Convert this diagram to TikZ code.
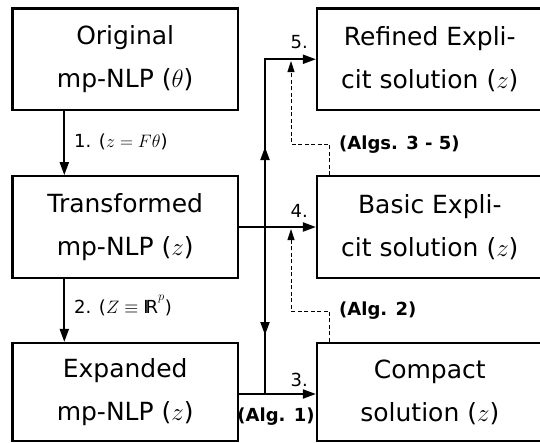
\documentclass[tikz,border=0pt]{standalone}
\usepackage{fix-cm}
\usepackage{fontspec}
\setmainfont{DejaVu Sans}
\usetikzlibrary{arrows.meta,decorations.markings,calc}
\begin{document}
\begin{tikzpicture}[x=1pt,y=-1pt,
 box/.style={draw, line width=2.2pt, minimum width=225.6pt, minimum height=101.5pt, inner sep=0pt, align=center, font=\fontsize{25}{43}\selectfont},
 arr/.style={line width=2pt, -{Triangle[length=13pt,width=9pt]}},
 dsh/.style={line width=0.9pt, dash pattern=on 4pt off 2.5pt, -{Triangle[length=11pt,width=7pt]}},
 lab/.style={font=\fontsize{18}{20}\selectfont, inner sep=0pt},
 blab/.style={inner sep=0pt, font=\fontsize{18}{20}\selectfont\bfseries}]
\useasboundingbox (0,0) rectangle (540,442);
% boxes
\node[box] (L1) at (125.2,59.25) {Original\\mp-NLP ($\theta$)};
\node[box] (L2) at (125.2,227) {Transformed\\mp-NLP ($z$)};
\node[box, minimum height=98pt] (L3) at (125.2,392) {Expanded\\mp-NLP ($z$)};
\node[box] (R1) at (429.8,59.25) {Refined Expli-\\cit solution ($z$)};
\node[box] (R2) at (429.8,227) {Basic Expli-\\cit solution ($z$)};
\node[box, minimum height=98pt] (R3) at (429.8,392) {Compact\\solution ($z$)};
% left column
\draw[arr] ([xshift=53pt]L1.south west) -- ([xshift=53pt]L2.north west);
\draw[arr] ([xshift=53pt]L2.south west) -- ([xshift=53pt]L3.north west);
\node[lab, anchor=base west] (l1) at (74,147) {1. ($z=F\theta$)};
\node[lab, anchor=base west] (l2) at (74,313) {2. ($Z\equiv{\rm I\!R}^p$)};
% main connectors
\coordinate (j3) at (265,394);
\draw[arr] ([yshift=-2pt]L3.east) -- ([yshift=-2pt]R3.west);
\draw[arr] (L2.east) -- (R2.west);
\draw[arr, postaction={decorate, decoration={markings,
   mark=at position 59pt with {\arrowreversed{Triangle[length=13pt,width=9pt]}},
   mark=at position 247pt with {\arrow{Triangle[length=13pt,width=9pt]}}}}]
   (j3) |- (R1.west);
% dashed
\coordinate (u1) at (291,144);
\coordinate (u2) at (291,61);
\coordinate (v1) at (291,311);
\coordinate (v2) at (291,229);
\draw[dsh] ([xshift=13.6pt]R2.north west) |- (u1) -- (u2);
\draw[dsh] ([xshift=13.6pt]R3.north west) |- (v1) -- (v2);
% labels
\node[lab, anchor=base east] (n5) at (308,48) {5.};
\node[lab, anchor=base east] (n4) at (308,217) {4.};
\node[lab, anchor=base east] (n3) at (308,386) {3.};
\node[blab, anchor=west] (a35) at (339,145) {(Algs. 3 - 5)};
\node[blab, anchor=west] (a2) at (339,311) {(Alg. 2)};
\node[blab] (a1) at (276,417) {(Alg. 1)};
\end{tikzpicture}
\end{document}
